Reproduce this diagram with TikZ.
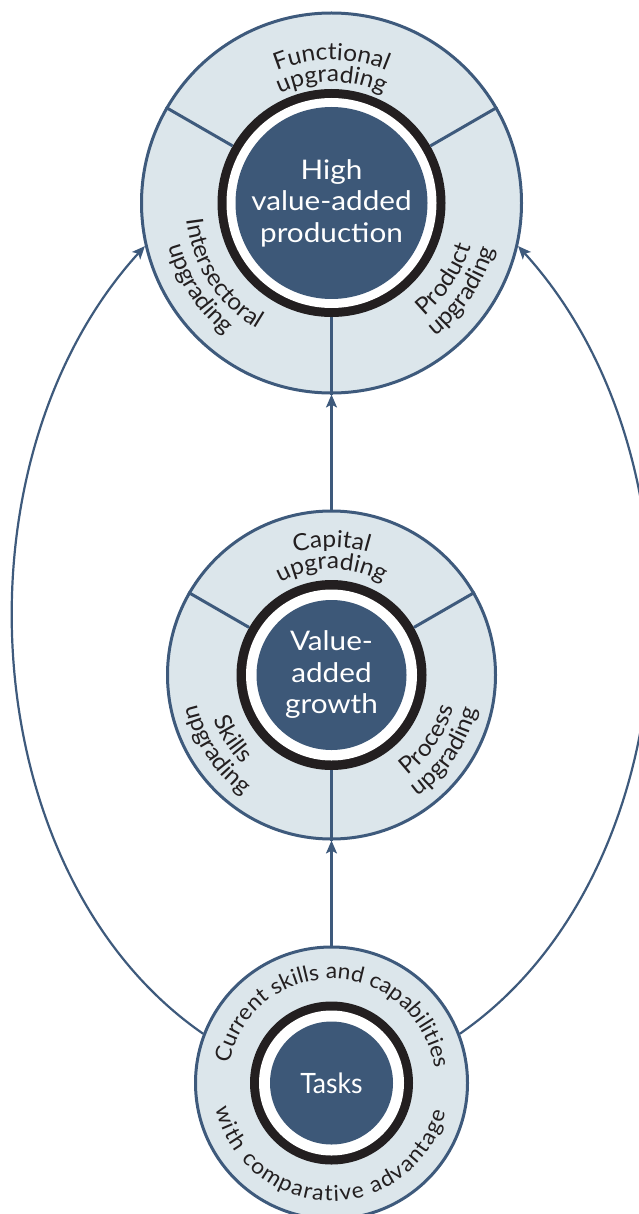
\documentclass[tikz,border=0pt]{standalone}
\usepackage{fontspec}
\setmainfont{Lato}
\newfontfamily\lblfont[FakeStretch=1.04]{Lato}
\newfontfamily\ctrfont[FakeStretch=1.1]{Lato}
\newfontfamily\taskfont[FakeStretch=0.95]{Lato}
\usetikzlibrary{decorations.text,arrows.meta,calc}
\definecolor{edge}{RGB}{62,90,124}
\definecolor{lightfill}{RGB}{220,230,235}
\definecolor{darkfill}{RGB}{61,88,120}
\definecolor{ringblack}{RGB}{35,31,32}
\definecolor{txt}{RGB}{35,31,32}
\newcommand{\lf}{\lblfont\fontsize{23.5}{27}\selectfont}
\newcommand{\lfs}{\lblfont\fontsize{22}{26}\selectfont}
\newcommand{\ctr}{\ctrfont\fontsize{27}{31.5}\selectfont}
\newcommand{\ringtext}[6]{%
  \path[decorate,decoration={text along path,text align=#6,text color=txt,
    text={|\lf|#5}}]
    ([shift={(#2:#4pt)}]#1.center) arc[start angle=#2,end angle=#3,radius=#4pt];}
\newcommand{\ringtextsmall}[6]{%
  \path[decorate,decoration={text along path,text align=#6,text color=txt,
    text={|\lfs|#5}}]
    ([shift={(#2:#4pt)}]#1.center) arc[start angle=#2,end angle=#3,radius=#4pt];}
\begin{document}
\begin{tikzpicture}[x=1pt,y=1pt,
  outer/.style={circle,draw=edge,line width=3pt,fill=lightfill,inner sep=0pt},
  ringdisc/.style={circle,fill=ringblack,inner sep=0pt},
  gapdisc/.style={circle,fill=white,inner sep=0pt},
  core/.style={circle,fill=darkfill,inner sep=0pt,text=white,align=center,font=\ctr},
  divider/.style={draw=edge,line width=3pt},
  arr/.style={draw=edge,line width=2.2pt,-{Stealth[length=13pt,width=11pt,inset=3pt]}}]
\useasboundingbox (0,0) rectangle (639,-1214);
\clip (0,0) rectangle (639,-1214);

% top circle
\node[outer,minimum size=380pt] (top) at (331.5,-203) {};
\node[ringdisc,minimum size=228pt] (topring) at (top) {};
\node[gapdisc,minimum size=210pt] (topgap) at (top) {};
\node[core,minimum size=192pt] (topc) at (top) {High\\value-added\\production};
\draw[divider] (topring.150) -- (top.150);
\draw[divider] (topring.30) -- (top.30);
\draw[divider] (topring.270) -- (top.270);

% middle circle
\node[outer,minimum size=328pt] (mid) at (331.5,-675) {};
\node[ringdisc,minimum size=190pt] (midring) at (mid) {};
\node[gapdisc,minimum size=171pt] (midgap) at (mid) {};
\node[core,minimum size=150pt] (midc) at (mid) {Value-\\added\\growth};
\draw[divider] (midring.150) -- (mid.150);
\draw[divider] (midring.30) -- (mid.30);
\draw[divider] (midring.270) -- (mid.270);

% bottom circle
\node[outer,minimum size=272pt] (bot) at (331.5,-1083) {};
\node[ringdisc,minimum size=163pt] (botring) at (bot) {};
\node[gapdisc,minimum size=145pt] (botgap) at (bot) {};
\node[core,minimum size=123pt,font=\taskfont\fontsize{28}{32}\selectfont] (botc) at (bot) {Tasks};

% connectors
\draw[arr] (bot.north) -- (mid.south);
\draw[arr] (mid.north) -- (top.south);
\draw[arr] (bot.159) .. controls +(-229.6,158.7) and +(-196.4,-215.9) .. (top.193);
\draw[arr] (bot.21) .. controls +(229.6,158.7) and +(196.4,-215.9) .. (top.-13);

% ring labels, top circle
\ringtext{top}{150}{30}{143}{Functional}{center}
\ringtext{top}{150}{30}{121}{upgrading}{center}
\ringtext{top}{153}{273}{146}{Intersectoral}{center}
\ringtext{top}{153}{273}{169}{upgrading}{center}
\ringtext{top}{-94}{26}{146}{Product}{center}
\ringtext{top}{-94}{26}{169}{upgrading}{center}

% ring labels, middle circle
\ringtext{mid}{150}{30}{128}{Capital}{center}
\ringtext{mid}{150}{30}{106}{upgrading}{center}
\ringtext{mid}{153}{273}{126}{Skills}{center}
\ringtext{mid}{153}{273}{149}{upgrading}{center}
\ringtext{mid}{-94}{26}{126}{Process}{center}
\ringtext{mid}{-94}{26}{149}{upgrading}{center}

% ring labels, bottom circle
\ringtextsmall{bot}{169}{8}{104}{Current skills and capabilities}{fit to path}
\ringtextsmall{bot}{192.5}{346}{118}{with comparative advantage}{fit to path}
\end{tikzpicture}
\end{document}
